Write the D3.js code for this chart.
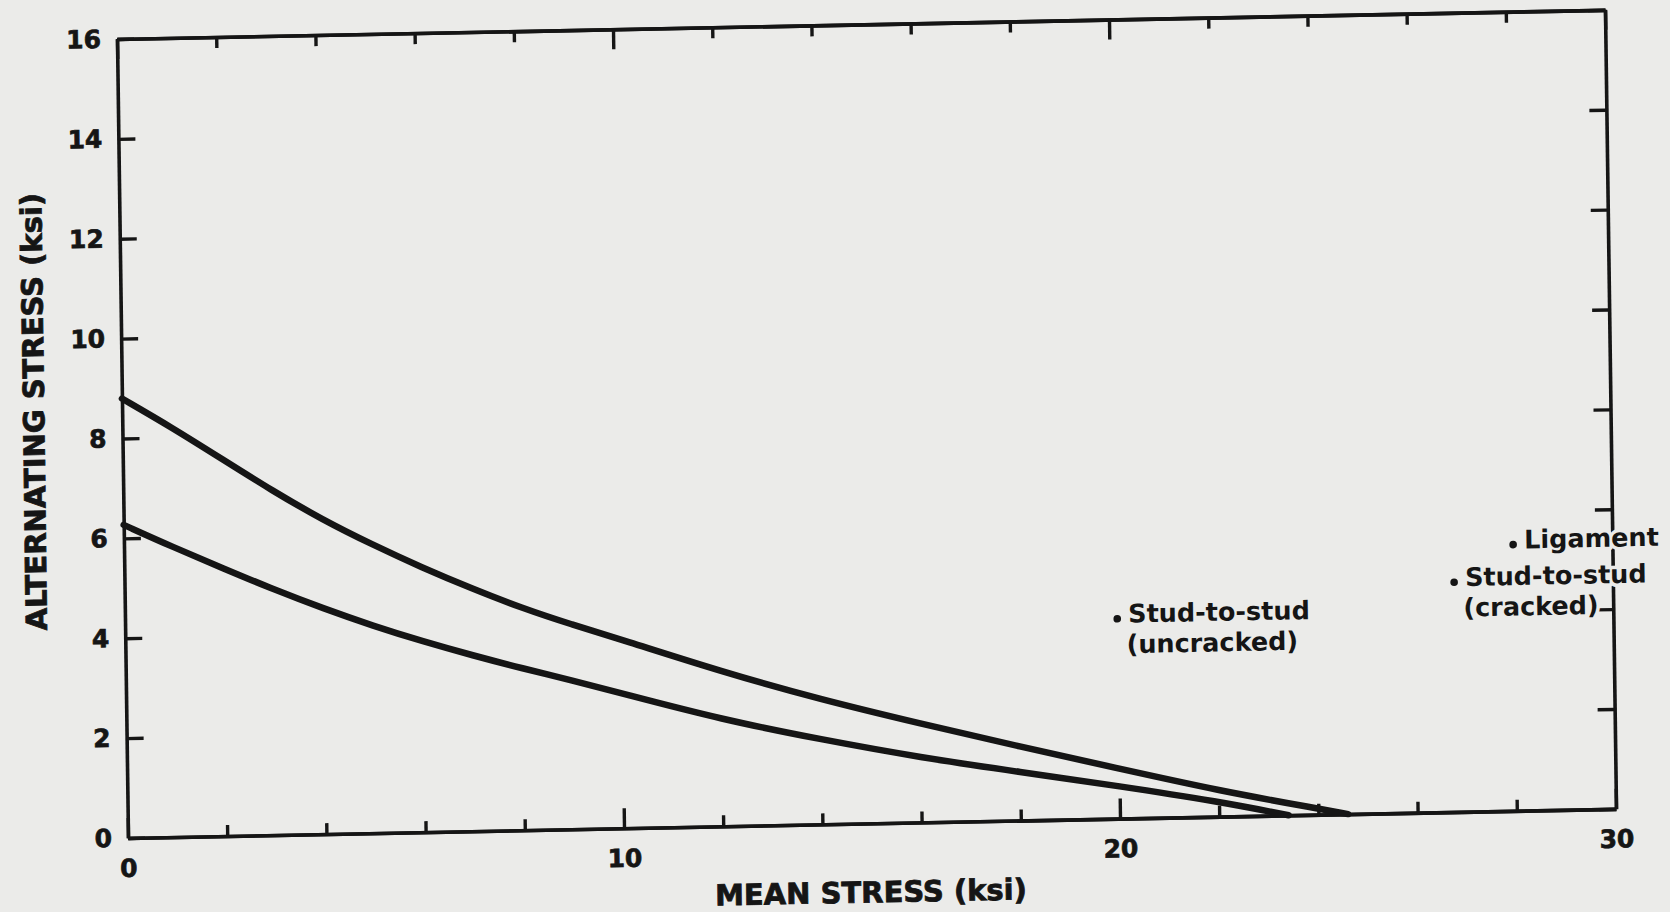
<!DOCTYPE html>
<html><head><meta charset="utf-8">
<script src="https://cdn.jsdelivr.net/npm/d3@7"></script>
<style>
html,body{margin:0;padding:0;background:#ebebe9;}
svg{display:block;}
text{font-family:"DejaVu Sans",sans-serif;font-weight:bold;fill:#151515;}
</style></head><body>
<svg id="chart" width="1670" height="912"></svg>
<script>
// ---- data ----
const xMajorTicks = [0, 10, 20, 30];
const xMinorTicks = [2, 4, 6, 8, 12, 14, 16, 18, 22, 24, 26, 28];
const yTicks = [0, 2, 4, 6, 8, 10, 12, 14, 16];
const upperX = [0, 1, 2, 3, 4, 5, 6, 7, 8, 9, 10, 12, 14, 16, 18, 20, 22, 24, 24.6];
const upperY = [8.8, 8.2, 7.55, 6.9, 6.3, 5.78, 5.3, 4.86, 4.45, 4.1, 3.78, 3.1, 2.5, 1.98, 1.48, 1.0, 0.52, 0.12, 0];
const lowerX = [0, 1, 2, 3, 4, 5, 6, 7, 8, 9, 10, 12, 14, 16, 18, 20, 22, 23.4];
const lowerY = [6.27, 5.8, 5.36, 4.92, 4.52, 4.15, 3.82, 3.52, 3.24, 2.98, 2.7, 2.14, 1.7, 1.3, 0.97, 0.65, 0.3, 0];
const pointLabels = [["Stud-to-stud", "(uncracked)"], ["Ligament"], ["Stud-to-stud", "(cracked)"]];
const pointX = [20, 28, 26.8];
const pointY = [4.0, 5.33, 4.6];
const xTitle = "MEAN STRESS (ksi)";
const yTitle = "ALTERNATING STRESS (ksi)";

// ---- layout ----
const W = 1488, H = 799;
const bg = "#ebebe9", ink = "#151515";
const svg = d3.select("#chart");
// scanned page is slightly skewed
const g = svg.append("g").attr("transform", "matrix(1,-0.0196,0.01377,1,117,39)");

const x = d3.scaleLinear().domain([0, 30]).range([0, W]);
const y = d3.scaleLinear().domain([0, 16]).range([H, 0]);

function styleAxis(sel) {
  sel.selectAll("path.domain").attr("stroke", ink).attr("stroke-width", 3.6);
  sel.selectAll(".tick line").attr("stroke", ink).attr("stroke-width", 3.4);
  sel.selectAll(".tick text").attr("fill", ink).attr("stroke", ink).attr("stroke-width", 0.7)
    .style("font-size", "25px").style("font-family", "'DejaVu Sans',sans-serif").style("font-weight", "bold");
}

// bottom axis
g.append("g").attr("transform", `translate(0,${H})`)
  .call(d3.axisBottom(x).tickValues(xMinorTicks).tickSize(-11).tickSizeOuter(0).tickFormat(""))
  .call(styleAxis);
g.append("g").attr("transform", `translate(0,${H})`)
  .call(d3.axisBottom(x).tickValues(xMajorTicks).tickSize(-20).tickSizeOuter(0).tickPadding(21).tickFormat(d3.format("d")))
  .call(styleAxis);
// top axis
g.append("g")
  .call(d3.axisTop(x).tickValues(xMinorTicks).tickSize(-11).tickSizeOuter(0).tickFormat(""))
  .call(styleAxis);
g.append("g")
  .call(d3.axisTop(x).tickValues(xMajorTicks).tickSize(-20).tickSizeOuter(0).tickFormat(""))
  .call(styleAxis);
// left axis
g.append("g")
  .call(d3.axisLeft(y).tickValues(yTicks).tickSize(-17).tickSizeOuter(0).tickPadding(16).tickFormat(d3.format("d")))
  .call(styleAxis);
// right axis
g.append("g").attr("transform", `translate(${W},0)`)
  .call(d3.axisRight(y).tickValues(yTicks).tickSize(-17).tickSizeOuter(0).tickFormat(""))
  .call(styleAxis);

// curves
const line = d3.line().x(d => x(d[0])).y(d => y(d[1])).curve(d3.curveBasis);
const upper = upperX.map((v, i) => [v, upperY[i]]);
const lower = lowerX.map((v, i) => [v, lowerY[i]]);
[upper, lower].forEach(s => {
  g.append("path").attr("d", line(s)).attr("fill", "none")
    .attr("stroke", ink).attr("stroke-width", 6.5).attr("stroke-linecap", "round").attr("stroke-linejoin", "round");
});

// annotated points (one text element per label, halo masks the frame line)
const pts = g.append("g");
pointX.forEach((px, i) => {
  const cx = x(px), cy = y(pointY[i]);
  const t = pts.append("text").style("font-size", "25.5px")
    .attr("stroke", bg).attr("stroke-width", 7).attr("stroke-linejoin", "round").attr("paint-order", "stroke");
  pointLabels[i].forEach((s, j) => {
    t.append("tspan").attr("x", cx + (j === 0 ? 11 : 9))
      .attr(j === 0 ? "y" : "dy", j === 0 ? cy + 4 : 30.5).text(s);
  });
  pts.append("circle").attr("cx", cx).attr("cy", cy).attr("r", 3.8).attr("fill", ink);
});

// titles
g.append("text").attr("x", W / 2 - 2).attr("y", H + 79).attr("text-anchor", "middle")
  .attr("stroke", ink).attr("stroke-width", 0.8)
  .style("font-size", "29px").text(xTitle);
g.append("text").attr("transform", `translate(-88,371) rotate(-90)`).attr("text-anchor", "middle")
  .attr("stroke", ink).attr("stroke-width", 0.8)
  .attr("dominant-baseline", "central").style("font-size", "29px").text(yTitle);
</script>
</body></html>
